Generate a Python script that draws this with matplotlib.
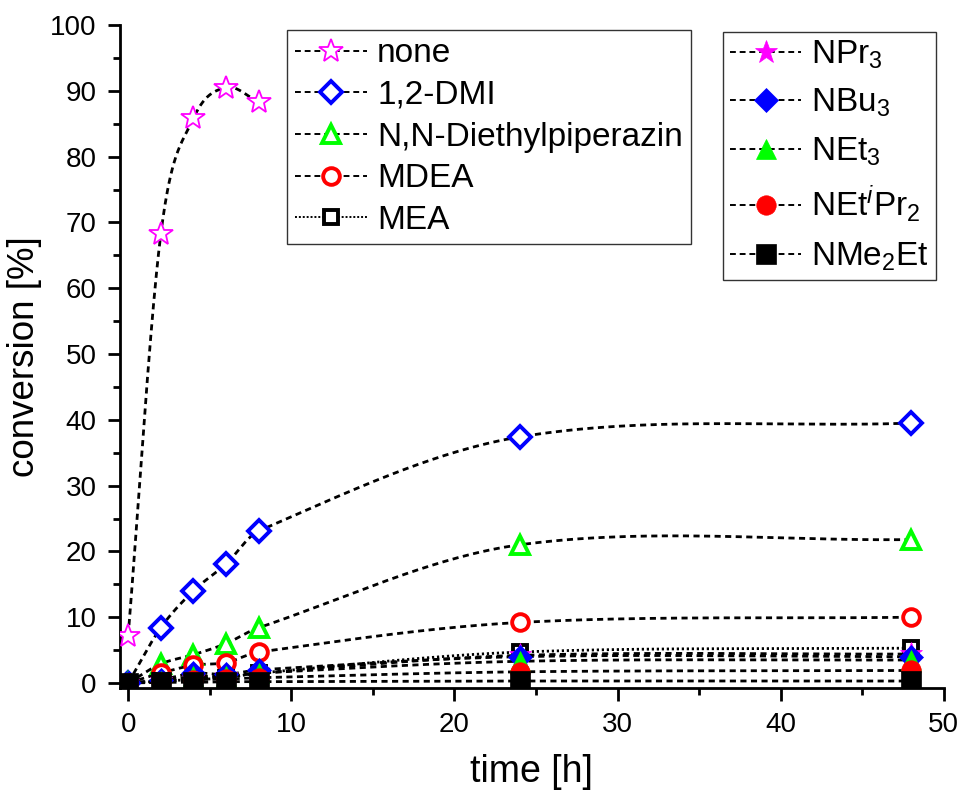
import numpy as np
import matplotlib
matplotlib.use("Agg")
import matplotlib.pyplot as plt
from matplotlib.ticker import MultipleLocator

plt.rcParams['font.family'] = ['Liberation Sans', 'DejaVu Sans']
plt.rcParams['mathtext.fontset'] = 'custom'
plt.rcParams['mathtext.rm'] = 'Liberation Sans'
plt.rcParams['mathtext.it'] = 'Liberation Sans:italic'
plt.rcParams['mathtext.bf'] = 'Liberation Sans:bold'

# ---- data ----
t_none = [0, 2, 4, 6, 8]
none = [7.2, 68.2, 85.8, 90.5, 88.3]

t = [0, 2, 4, 6, 8, 24, 48]
dmi = [0, 8.4, 14.0, 18.1, 23.1, 37.4, 39.5]
diethylpip = [0, 2.9, 4.3, 6.0, 8.4, 21.0, 21.8]
mdea = [0, 1.5, 2.7, 3.1, 4.7, 9.2, 10.0]
mea = [0, 0.3, 0.5, 0.8, 1.5, 4.7, 5.3]
npr3 = [0, 0.3, 0.6, 1.0, 1.5, 4.2, 4.4]
nbu3 = [0, 0.5, 1.5, 1.3, 2.0, 4.0, 4.0]
net3 = [0, 0.3, 1.0, 1.0, 1.5, 3.3, 3.5]
netipr2 = [0, 0.2, 0.5, 0.6, 0.8, 1.7, 1.9]
nme2et = [0, 0.1, 0.1, 0.2, 0.2, 0.3, 0.3]

labels_left = ['none', '1,2-DMI', 'N,N-Diethylpiperazin', 'MDEA', 'MEA']
labels_right = [r'NPr$_3$', r'NBu$_3$', r'NEt$_3$', r'NEt$^{\mathit{i}}$Pr$_2$', r'NMe$_2$Et']


def smooth_curve(x, y, n=60):
    """Cubic Hermite (Catmull-Rom type) curve through the data points."""
    x = np.asarray(x, float)
    y = np.asarray(y, float)
    k = len(x)
    d = np.zeros(k)
    d[0] = (y[1] - y[0]) / (x[1] - x[0])
    d[-1] = (y[-1] - y[-2]) / (x[-1] - x[-2])
    for i in range(1, k - 1):
        d[i] = (y[i + 1] - y[i - 1]) / (x[i + 1] - x[i - 1])
    xs_all, ys_all = [], []
    for i in range(k - 1):
        L = x[i + 1] - x[i]
        s = np.linspace(0, 1, n)
        h00 = 2 * s**3 - 3 * s**2 + 1
        h10 = s**3 - 2 * s**2 + s
        h01 = -2 * s**3 + 3 * s**2
        h11 = s**3 - s**2
        xs_all.append(x[i] + s * L)
        ys_all.append(h00 * y[i] + h10 * L * d[i] + h01 * y[i + 1] + h11 * L * d[i + 1])
    return np.concatenate(xs_all), np.concatenate(ys_all)


fig = plt.figure(figsize=(9.64, 7.94), dpi=100)
ax = fig.add_axes([0.1245, 0.1335, 0.8545, 0.835])

dash = (0, (2.2, 1.6))
dot = (0, (0.8, 1.0))

series = [
    (t_none, none, dict(marker='*', mfc='white', mec='#ff00ff', ms=18, mew=1.3), dash),
    (t, dmi, dict(marker='D', mfc='white', mec='#0000ff', ms=11, mew=2.8), dash),
    (t, diethylpip, dict(marker='^', mfc='white', mec='#00ff00', ms=13, mew=2.8), dash),
    (t, mdea, dict(marker='o', mfc='white', mec='#ff0000', ms=12, mew=2.8), dash),
    (t, mea, dict(marker='s', mfc='white', mec='black', ms=10, mew=2.8), dot),
    (t, npr3, dict(marker='*', mfc='#ff00ff', mec='#ff00ff', ms=17, mew=0.5), dash),
    (t, nbu3, dict(marker='D', mfc='#0000ff', mec='#0000ff', ms=12, mew=0.5), dash),
    (t, net3, dict(marker='^', mfc='#00ff00', mec='#00ff00', ms=15, mew=0.5), dash),
    (t, netipr2, dict(marker='o', mfc='#ff0000', mec='#ff0000', ms=14, mew=0.5), dash),
    (t, nme2et, dict(marker='s', mfc='black', mec='black', ms=14, mew=0.5), dash),
]

handles = []
for xs_, ys_, mk, ls in series:
    sx, sy = smooth_curve(xs_, ys_)
    ax.plot(sx, sy, color='black', lw=2.0, linestyle=ls, zorder=2)
for xs_, ys_, mk, ls in series:
    ax.plot(xs_, ys_, linestyle='none', zorder=3, **mk)
    h, = ax.plot([], [], color='black', lw=1.4,
                 linestyle=(0, (3, 2)) if ls == dash else (0, (1, 1)), **mk)
    handles.append(h)

ax.set_xlim(-0.5, 50)
ax.set_ylim(-0.76, 100)
ax.xaxis.set_major_locator(MultipleLocator(10))
ax.xaxis.set_minor_locator(MultipleLocator(5))
ax.yaxis.set_major_locator(MultipleLocator(10))
ax.yaxis.set_minor_locator(MultipleLocator(5))
for s in ['top', 'right']:
    ax.spines[s].set_visible(False)
for s in ['left', 'bottom']:
    ax.spines[s].set_linewidth(2.0)
ax.spines['bottom'].set_bounds(-0.5, 50)
ax.tick_params(which='major', direction='out', length=9, width=2.0, labelsize=20, pad=8)
ax.tick_params(which='minor', direction='out', length=5, width=2.0)
ax.set_xlabel('time [h]', fontsize=27, labelpad=12)
ax.set_ylabel('conversion [%]', fontsize=26.5, labelpad=6)

leg1 = ax.legend(handles[:5], labels_left, loc='upper left',
                 bbox_to_anchor=(287 / 964, 1 - 30 / 794), bbox_transform=fig.transFigure,
                 fontsize=24, frameon=True, fancybox=False, edgecolor='black',
                 handlelength=2.15, handletextpad=0.3, labelspacing=0.32,
                 borderpad=0.25, borderaxespad=0)
leg1.get_frame().set_linewidth(1.0)
ax.add_artist(leg1)
leg2 = ax.legend(handles[5:], labels_right, loc='upper left',
                 bbox_to_anchor=(723 / 964, 1 - 32 / 794), bbox_transform=fig.transFigure,
                 fontsize=24, frameon=True, fancybox=False, edgecolor='black',
                 handlelength=2.15, handletextpad=0.3, labelspacing=0.48,
                 borderpad=0.2, borderaxespad=0)
leg2.get_frame().set_linewidth(1.0)

fig.savefig('out.png', dpi=100)
